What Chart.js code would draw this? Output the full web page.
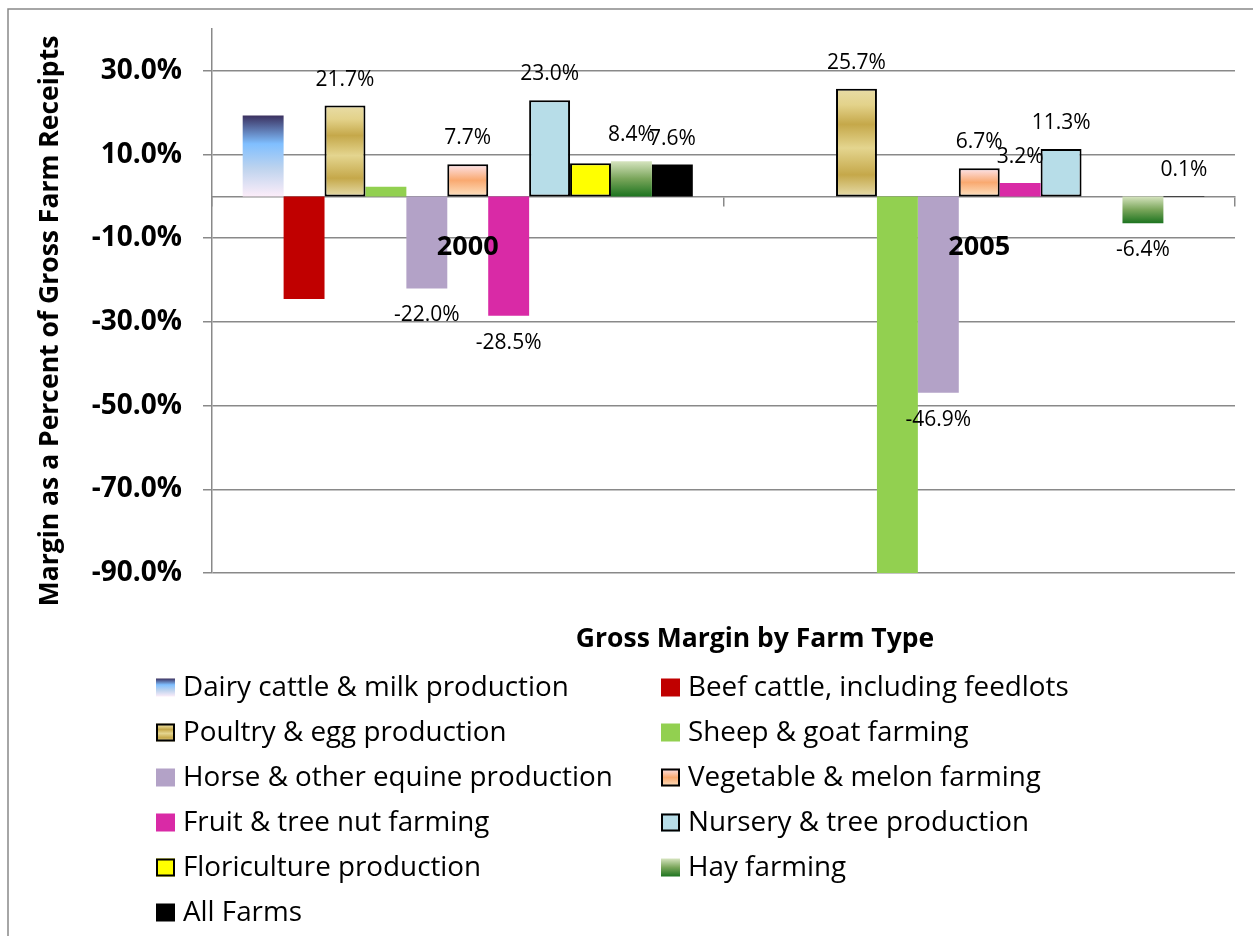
<!DOCTYPE html>
<html>
<head>
<meta charset="utf-8">
<script src="https://cdn.jsdelivr.net/npm/chart.js@4.4.1/dist/chart.umd.min.js"></script>
<style>
  html, body { margin: 0; padding: 0; background: #fff; }
  #wrap { width: 1253px; height: 936px; }
</style>
</head>
<body>
<div id="wrap"><canvas id="marginChart" width="1253" height="936"></canvas></div>
<script>
// categories + series (margin as % of gross farm receipts)
const years = ['2000', '2005'];
const farmTypes = [
    'Dairy cattle & milk production',
    'Beef cattle, including feedlots',
    'Poultry & egg production',
    'Sheep & goat farming',
    'Horse & other equine production',
    'Vegetable & melon farming',
    'Fruit & tree nut farming',
    'Nursery & tree production',
    'Floriculture production',
    'Hay farming',
    'All Farms'
];
const dairy = [19.3, null];
const beef = [-24.5, null];
const poultry = [21.7, 25.7];
const sheep = [2.3, -95.0];   // 2005 bar runs off the bottom of the axis
const horse = [-22.0, -46.9];
const vegetable = [7.7, 6.7];
const fruit = [-28.5, 3.2];
const nursery = [23.0, 11.3];
const floriculture = [7.9, null];
const hay = [8.4, -6.4];
const allFarms = [7.6, 0.1];
const seriesValues = [dairy, beef, poultry, sheep, horse, vegetable, fruit, nursery, floriculture, hay, allFarms];
const yTicks = [-90, -70, -50, -30, -10, 10, 30];
// only these series carry value labels in the original
const labelledSeries = [
    'Poultry & egg production',
    'Horse & other equine production',
    'Vegetable & melon farming',
    'Fruit & tree nut farming',
    'Nursery & tree production',
    'Hay farming',
    'All Farms'
];

// fill styles, solid or vertical gradient (top -> bottom of each bar)
const styles = [
    { stops: [[0, '#3b3160'], [0.35, '#80bfff'], [0.65, '#bdd3ee'], [1, '#fcedf9']] },
    { color: '#c00000' },
    { stops: [[0, '#e8dca6'], [0.15, '#e3d28a'], [0.33, '#c5a84a'], [0.55, '#e4d58f'], [0.8, '#c5a84a'], [1, '#e6dcaa']], border: true },
    { color: '#92d050' },
    { color: '#b3a2c7' },
    { stops: [[0, '#fde4ec'], [0.5, '#f9a970'], [1, '#fde2c2']], border: true },
    { color: '#d92aa6' },
    { color: '#b7dde8', border: true },
    { color: '#ffff00', border: true },
    { stops: [[0, '#d6e4bf'], [0.5, '#79a55a'], [1, '#1d7420']] },
    { color: '#000000' }
];

const FONT = "'Open Sans'";

function paint(ctx, st, top, bottom) {
    if (!st.stops) return st.color;
    if (!isFinite(top) || !isFinite(bottom) || top === bottom) return st.stops[0][1];
    const g = ctx.createLinearGradient(0, top, 0, bottom);
    st.stops.forEach(s => g.addColorStop(s[0], s[1]));
    return g;
}

const datasets = farmTypes.map((name, i) => ({
    label: name,
    data: seriesValues[i],
    clip: 0,
    borderSkipped: false,
    borderWidth: styles[i].border ? 2 : 0,
    borderColor: '#000',
    backgroundColor: (c) => {
        const st = styles[i];
        if (!st.stops) return st.color;
        const v = c.raw;
        const ys = c.chart.scales.y;
        if (v == null || !ys) return st.stops[0][1];
        const a = ys.getPixelForValue(v), b = ys.getPixelForValue(0);
        return paint(c.chart.ctx, st, Math.min(a, b), Math.max(a, b));
    }
}));

const frame = {
    id: 'frame',
    beforeDraw(chart) {
        const ctx = chart.ctx;
        ctx.save();
        ctx.fillStyle = '#fff';
        ctx.fillRect(0, 0, chart.width, chart.height);
        ctx.strokeStyle = '#898989';
        ctx.lineWidth = 1.5;
        ctx.beginPath();
        ctx.moveTo(8, chart.height);
        ctx.lineTo(8, 9);
        ctx.lineTo(chart.width, 9);
        ctx.stroke();
        ctx.restore();
    }
};

const barValueLabels = {
    id: 'barValueLabels',
    afterDatasetsDraw(chart) {
        const ctx = chart.ctx;
        ctx.save();
        ctx.font = '21px ' + FONT;
        ctx.fillStyle = '#000';
        ctx.textAlign = 'center';
        ctx.textBaseline = 'middle';
        chart.data.datasets.forEach((ds, i) => {
            if (!labelledSeries.includes(ds.label)) return;
            chart.getDatasetMeta(i).data.forEach((bar, j) => {
                const v = ds.data[j];
                if (v == null) return;
                ctx.fillText(v.toFixed(1) + '%', bar.x, v >= 0 ? bar.y - 26 : bar.y + 27);
            });
        });
        ctx.restore();
    }
};

// titles + two column legend, drawn by hand so the columns line up
const titlesAndLegend = {
    id: 'titlesAndLegend',
    afterDraw(chart) {
        const ctx = chart.ctx;
        ctx.save();
        ctx.fillStyle = '#000';
        ctx.textBaseline = 'middle';

        // y title
        ctx.save();
        ctx.translate(50, 321);
        ctx.rotate(-Math.PI / 2);
        ctx.textAlign = 'center';
        ctx.font = 'bold 26.5px ' + FONT;
        ctx.fillText('Margin as a Percent of Gross Farm Receipts', 0, 0);
        ctx.restore();

        // x title
        ctx.textAlign = 'center';
        ctx.font = 'bold 26.5px ' + FONT;
        ctx.fillText('Gross Margin by Farm Type', 755, 639);

        ctx.textAlign = 'left';
        ctx.font = '27.8px ' + FONT;
        chart.data.datasets.forEach((ds, i) => {
            const col = i % 2, row = Math.floor(i / 2);
            const bx = col === 0 ? 156 : 661;
            const cy = 687.5 + row * 45;
            const st = styles[i];
            ctx.fillStyle = paint(ctx, st, cy - 9, cy + 9);
            ctx.fillRect(bx, cy - 9, 19, 18);
            if (st.border) {
                ctx.strokeStyle = '#000';
                ctx.lineWidth = 2;
                ctx.strokeRect(bx + 1, cy - 8, 17, 16);
            }
            ctx.fillStyle = '#000';
            ctx.fillText(ds.label, bx + 27, cy + 1);
        });
        ctx.restore();
    }
};

Chart.defaults.font.family = FONT;
Chart.defaults.color = '#000';

new Chart(document.getElementById('marginChart'), {
    type: 'bar',
    data: { labels: years, datasets: datasets },
    options: {
        responsive: false,
        animation: false,
        layout: { padding: { left: 0, top: 29, right: 18, bottom: 363 } },
        datasets: { bar: { categoryPercentage: 0.88, barPercentage: 1 } },
        plugins: { legend: { display: false }, tooltip: { enabled: false } },
        scales: {
            x: {
                type: 'category',
                position: { y: 0 },
                offset: true,
                grid: { drawOnChartArea: false, drawTicks: true, tickLength: 9, color: '#898989', lineWidth: 1.5 },
                border: { color: '#898989', width: 1.5 },
                ticks: { font: { size: 27, weight: 'bold' }, padding: 26, color: '#000', z: 1 }
            },
            y: {
                min: -90,
                max: 40,
                afterBuildTicks: (s) => { s.ticks = yTicks.map(v => ({ value: v })); },
                afterFit: (s) => {
                    s.width = 212;
                    s.paddingTop = 0;
                    s.paddingBottom = 0;
                },
                grid: { color: '#898989', lineWidth: 1.5, tickLength: 9 },
                border: { color: '#898989', width: 1.5 },
                ticks: {
                    font: { size: 28, weight: 'bold' },
                    padding: 21,
                    color: '#000',
                    callback: (v) => v.toFixed(1) + '%'
                }
            }
        }
    },
    plugins: [frame, barValueLabels, titlesAndLegend]
});
</script>
</body>
</html>
